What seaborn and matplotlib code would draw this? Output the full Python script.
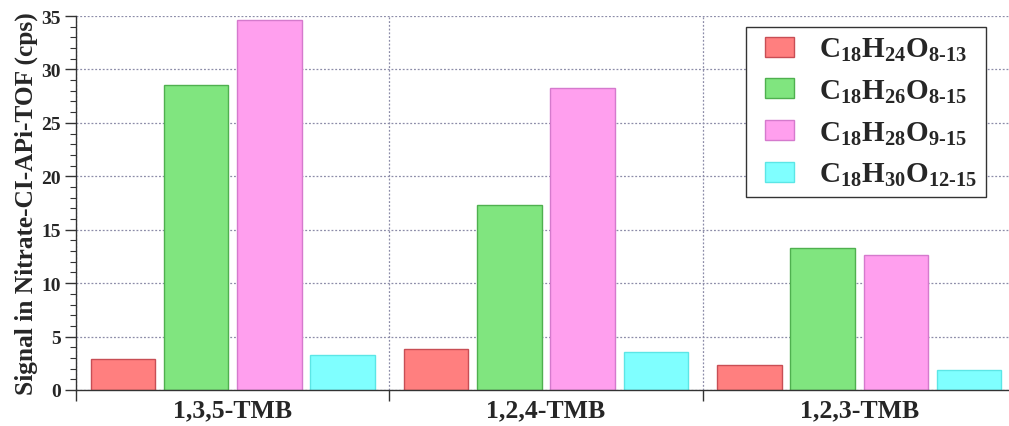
import numpy as np
import pandas as pd
import matplotlib
matplotlib.use("Agg")
import matplotlib.pyplot as plt
import seaborn as sns
from matplotlib.patches import Rectangle
from matplotlib.legend_handler import HandlerPatch
from matplotlib.ticker import MultipleLocator, FixedLocator

# Signal of C18 dimer families for the three trimethylbenzene isomers
isomers = ["1,3,5-TMB", "1,2,4-TMB", "1,2,3-TMB"]
families = ["C18H24O8-13", "C18H26O8-15", "C18H28O9-15", "C18H30O12-15"]
family_labels = [
    r"C$_{18}$H$_{24}$O$_{8\text{-}13}$",
    r"C$_{18}$H$_{26}$O$_{8\text{-}15}$",
    r"C$_{18}$H$_{28}$O$_{9\text{-}15}$",
    r"C$_{18}$H$_{30}$O$_{12\text{-}15}$",
]
c18h24 = [2.9, 3.85, 2.3]
c18h26 = [28.5, 17.3, 13.25]
c18h28 = [34.6, 28.3, 12.6]
c18h30 = [3.25, 3.55, 1.85]

fill_colors = ["#FF7F7F", "#80E57F", "#FF9FEE", "#7FFFFF"]
edge_colors = ["#C84E55", "#4FB04F", "#D57ACD", "#5CE6E6"]

df = pd.DataFrame({
    "isomer": np.repeat(isomers, len(families)),
    "family": families * len(isomers),
    "signal": np.ravel(np.column_stack([c18h24, c18h26, c18h28, c18h30])),
})

sns.set_style("white")
plt.rcParams["font.family"] = ["Liberation Serif", "DejaVu Serif"]
plt.rcParams["font.weight"] = "bold"
plt.rcParams["mathtext.fontset"] = "custom"
plt.rcParams["mathtext.rm"] = "Liberation Serif:bold"
plt.rcParams["mathtext.bf"] = "Liberation Serif:bold"
plt.rcParams["mathtext.it"] = "Liberation Serif:bold"

fig = plt.figure(figsize=(10.09, 4.27), dpi=100)
ax = fig.add_axes([76 / 1009, 36 / 427, 940 / 1009, 374 / 427])

sns.barplot(data=df, x="isomer", y="signal", hue="family", order=isomers,
            hue_order=families, palette=fill_colors, width=0.935, gap=0.12,
            saturation=1, linewidth=1.0, ax=ax, legend=True)

for cont, ec in zip(ax.containers, edge_colors):
    for bar in cont:
        bar.set_edgecolor(ec)

ax.set_xlim(-0.5, 2.5)
ax.set_ylim(0, 35)
ax.set_xlabel("")
ax.set_ylabel("Signal in Nitrate-CI-APi-TOF (cps)", fontsize=18.3,
              fontweight="bold", labelpad=2)

# y axis: major every 5, minor every 1
ax.yaxis.set_major_locator(MultipleLocator(5))
ax.yaxis.set_minor_locator(MultipleLocator(1))
ax.tick_params(axis="y", which="major", direction="out", length=8, width=1,
               color="#333333", labelsize=14, pad=3, left=True)
ax.tick_params(axis="y", which="minor", direction="out", length=4.5, width=0.8,
               color="#333333", left=True)

# x axis: group separators as minor ticks
ax.xaxis.set_minor_locator(FixedLocator([-0.5, 0.5, 1.5, 2.5]))
ax.tick_params(axis="x", which="major", length=0, labelsize=18.5, pad=6)
ax.tick_params(axis="x", which="minor", direction="out", length=8, width=1,
               color="#333333", bottom=True)
for lab in ax.get_xticklabels() + ax.get_yticklabels():
    lab.set_fontweight("bold")

ax.grid(False)
ax.yaxis.grid(True, which="major", linestyle=(0, (1.5, 1.5)), color="#8C8CA8",
              linewidth=0.9)
ax.xaxis.grid(True, which="minor", linestyle=(0, (1.5, 1.5)), color="#8C8CA8",
              linewidth=0.9)
ax.set_axisbelow(True)

for side in ["top", "right"]:
    ax.spines[side].set_visible(False)
for side in ["left", "bottom"]:
    ax.spines[side].set_color("#333333")
    ax.spines[side].set_linewidth(1.0)


def swatch(legend, orig_handle, xdescent, ydescent, width, height, fontsize):
    # colour swatch sits at the right end of the handle box
    w = height * 29 / 20
    return Rectangle((-xdescent + width - w, -ydescent), w, height)


handles, _ = ax.get_legend_handles_labels()
for h, ec in zip(handles, edge_colors):
    h.set_edgecolor(ec)
leg = ax.legend(handles, family_labels, loc="upper right",
                bbox_to_anchor=(986 / 1009, 1 - 28 / 427),
                bbox_transform=fig.transFigure, borderaxespad=0,
                fontsize=21, frameon=True, fancybox=False, shadow=False,
                edgecolor="#333333", framealpha=1, handlelength=1.37,
                handleheight=0.68, handletextpad=0.85, labelspacing=0.5,
                borderpad=0.3,
                handler_map={h: HandlerPatch(patch_func=swatch) for h in handles})
leg.get_frame().set_linewidth(1.0)

fig.savefig("out.png", dpi=100)
